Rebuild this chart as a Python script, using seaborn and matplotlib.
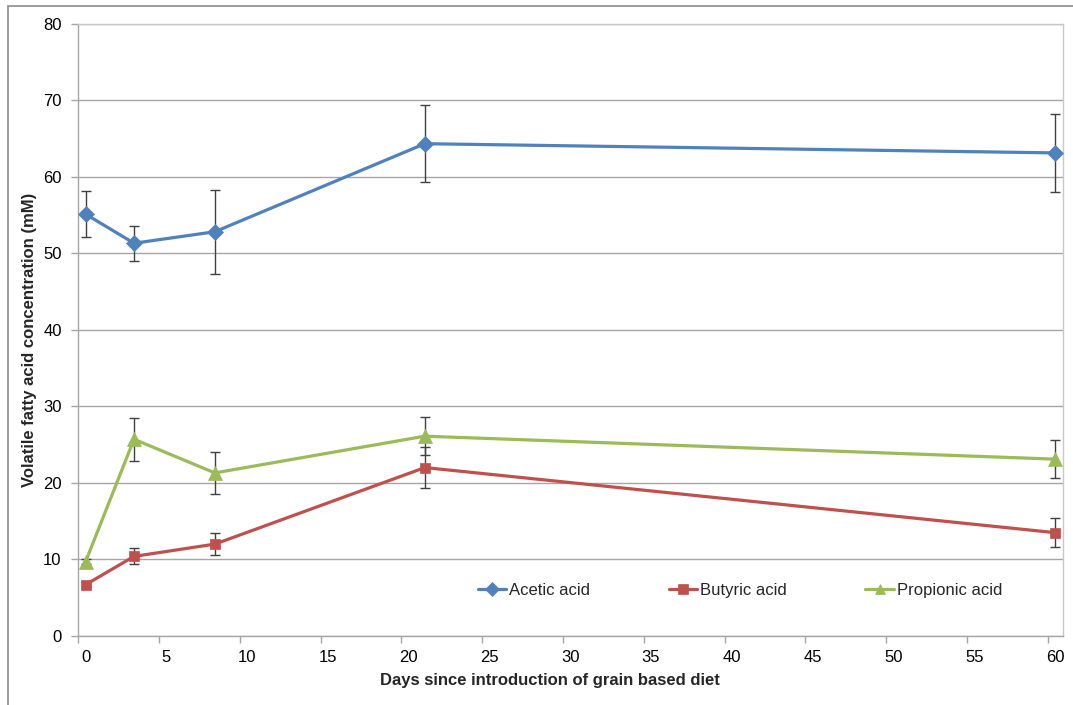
import numpy as np
import pandas as pd
import matplotlib
matplotlib.use("Agg")
import matplotlib.pyplot as plt
from matplotlib.patches import Rectangle
import seaborn as sns

# Sampling days and mean concentrations (mM) with their error bars
days = [0, 3, 8, 21, 60]
acetic = [55.1, 51.3, 52.8, 64.3, 63.1]
acetic_err = [3.0, 2.3, 5.5, 5.0, 5.1]
butyric = [6.7, 10.4, 12.0, 22.0, 13.5]
butyric_err = [0.3, 1.05, 1.45, 2.7, 1.9]
propionic = [9.7, 25.7, 21.3, 26.1, 23.1]
propionic_err = [0.3, 2.8, 2.75, 2.5, 2.45]

series_names = ["Acetic acid", "Butyric acid", "Propionic acid"]
x_ticks = list(range(0, 61, 5))
y_ticks = list(range(0, 81, 10))

colors = {"Acetic acid": "#4F81BD", "Butyric acid": "#C0504D", "Propionic acid": "#9BBB59"}
markers = {"Acetic acid": "D", "Butyric acid": "s", "Propionic acid": "^"}
msizes = {"Acetic acid": 8.5, "Butyric acid": 7.5, "Propionic acid": 9.5}

df = pd.DataFrame({
    "day": days * 3,
    "value": acetic + butyric + propionic,
    "err": acetic_err + butyric_err + propionic_err,
    "acid": sum([[n] * len(days) for n in series_names], []),
})

sns.set_theme(style="white")
plt.rcParams["font.family"] = ["Liberation Sans", "DejaVu Sans"]

fig = plt.figure(figsize=(10.73, 7.05), dpi=100)
ax = fig.add_axes([78.3 / 1073, 1 - 636 / 705, (1063 - 78.3) / 1073, (636 - 23.5) / 705])

# outer chart-area frame
fig.patches.append(Rectangle((8 / 1073, -0.05), 1.2, 1 - 6 / 705 + 0.05,
                             transform=fig.transFigure, fill=False,
                             edgecolor="#8C8C8C", linewidth=1.2, zorder=0))

for name in series_names:
    sub = df[df["acid"] == name]
    ax.errorbar(sub["day"], sub["value"], yerr=sub["err"], fmt="none",
                ecolor="#404040", elinewidth=1.0, capsize=3.5, capthick=1.0, zorder=2)
    sns.lineplot(data=sub, x="day", y="value", ax=ax, color=colors[name],
                 marker=markers[name], markersize=msizes[name], markeredgecolor=colors[name],
                 markeredgewidth=0.5, linewidth=2.3, label=name, zorder=3,
                 estimator=None, sort=False)

ax.set_xlim(-0.45, 60.5)
ax.set_ylim(0, 80)

ax.set_yticks(y_ticks)
ax.set_xticks(x_ticks)
ax.set_xticklabels([str(t) for t in x_ticks])
ax.tick_params(axis="x", which="major", length=0, pad=10, labelsize=12, colors="#000000")
ax.set_xticks([t - 0.45 for t in x_ticks], minor=True)
ax.tick_params(axis="x", which="minor", length=5, width=1, color="#A6A6A6", direction="out")
ax.tick_params(axis="y", which="major", length=5, width=1, color="#A6A6A6", direction="out",
               pad=7, labelsize=12, labelcolor="#000000")
ax.tick_params(bottom=True, left=True, which="both")

ax.grid(axis="y", color="#A6A6A6", linewidth=1.0)
ax.grid(axis="x", visible=False)
ax.set_axisbelow(True)
for side in ["left", "bottom"]:
    ax.spines[side].set_color("#A6A6A6")
    ax.spines[side].set_linewidth(1.0)
for side in ["right", "top"]:
    ax.spines[side].set_color("#C8C8C8")
    ax.spines[side].set_linewidth(1.0)

ax.set_xlabel("")
ax.set_ylabel("")
fig.text(550 / 1073, 1 - 680 / 705, "Days since introduction of grain based diet",
         ha="center", va="center", fontsize=12, fontweight="bold")
fig.text(30 / 1073, 1 - 340 / 705, "Volatile fatty acid concentration (mM)",
         ha="center", va="center", rotation=90, fontsize=12, fontweight="bold")

leg = ax.legend(loc="center", bbox_to_anchor=(0.672, 0.075), ncol=3, frameon=False,
                fontsize=12, handlelength=1.7, handletextpad=0.2, columnspacing=4.7)
for h in leg.legend_handles:
    h.set_markersize(7)

fig.savefig("out.png", dpi=100, facecolor="white")
